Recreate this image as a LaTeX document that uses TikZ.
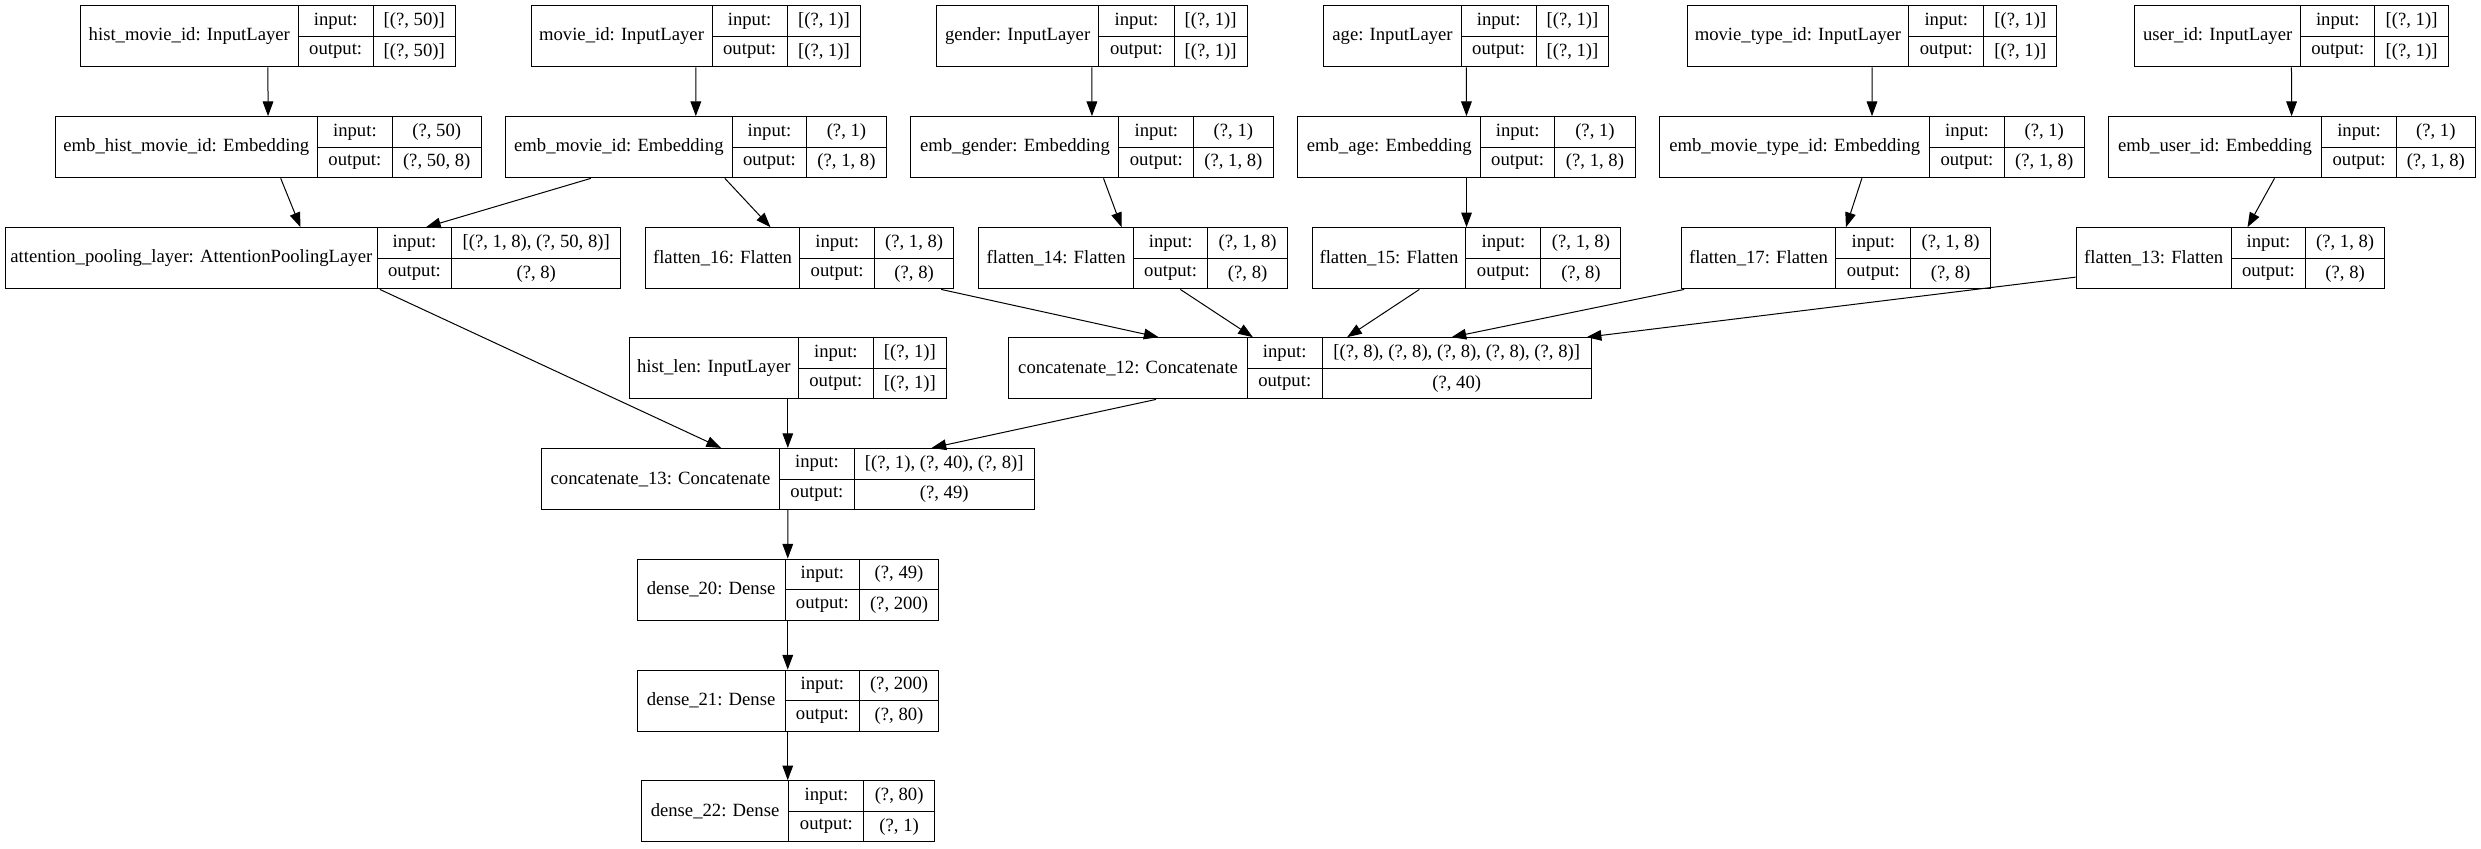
\documentclass[tikz,border=0pt]{standalone}
\usepackage{fontspec}
\setmainfont{Liberation Serif}
\usetikzlibrary{arrows.meta, fit, calc}

% one keras layer: name, left, divider 1, divider 2, right, top, label, input, output
\newcommand{\kerasbox}[9]{%
  \node[layerbox, fit={(#2,#6) (#5,{#6+38.7})}] (#1) {};
  \draw[cellrule] (#3,#6) -- (#3,{#6+38.7});
  \draw[cellrule] (#4,#6) -- (#4,{#6+38.7});
  \draw[cellrule] (#3,{#6+19.35}) -- (#5,{#6+19.35});
  \node[cell] (#1-lbl) at ({(#2+#3)/2},{#6+19.35}) {#7};
  \node[cell] (#1-inl) at ({(#3+#4)/2},{#6+9.7}) {input:};
  \node[cell] (#1-outl) at ({(#3+#4)/2},{#6+29.0}) {output:};
  \node[cell] (#1-inv) at ({(#4+#5)/2},{#6+9.7}) {#8};
  \node[cell] (#1-outv) at ({(#4+#5)/2},{#6+29.0}) {#9};
}

\begin{document}
\begin{tikzpicture}[x=1.1867pt, y=-1.1867pt,
    font=\fontsize{14pt}{16pt}\selectfont,
    layerbox/.style={draw, line width=0.75pt, inner sep=0pt},
    cellrule/.style={line width=0.75pt},
    cell/.style={inner sep=0pt},
    flow/.style={line width=0.75pt, -{Triangle[length=11pt,width=8pt]}}]
  \useasboundingbox (0,0) rectangle (1568,536);

  % inputs
  \kerasbox{histmovie}{50.9}{188.4}{235.9}{287.7}{3.6}{hist\_movie\_id: InputLayer}{[(?, 50)]}{[(?, 50)]}
  \kerasbox{movie}{335.6}{450.0}{497.5}{544.0}{3.6}{movie\_id: InputLayer}{[(?, 1)]}{[(?, 1)]}
  \kerasbox{gender}{591.8}{694.5}{742.0}{788.2}{3.6}{gender: InputLayer}{[(?, 1)]}{[(?, 1)]}
  \kerasbox{age}{836.7}{923.4}{970.9}{1016.7}{3.6}{age: InputLayer}{[(?, 1)]}{[(?, 1)]}
  \kerasbox{movietype}{1066.3}{1206.3}{1253.8}{1299.9}{3.6}{movie\_type\_id: InputLayer}{[(?, 1)]}{[(?, 1)]}
  \kerasbox{user}{1349.0}{1454.1}{1500.9}{1547.3}{3.6}{user\_id: InputLayer}{[(?, 1)]}{[(?, 1)]}

  % embeddings
  \kerasbox{embhist}{34.8}{200.7}{247.9}{304.1}{73.7}{emb\_hist\_movie\_id: Embedding}{(?, 50)}{(?, 50, 8)}
  \kerasbox{embmovie}{319.5}{462.7}{509.9}{560.0}{73.7}{emb\_movie\_id: Embedding}{(?, 1)}{(?, 1, 8)}
  \kerasbox{embgender}{575.7}{707.2}{754.4}{804.6}{73.7}{emb\_gender: Embedding}{(?, 1)}{(?, 1, 8)}
  \kerasbox{embage}{820.3}{935.7}{982.6}{1033.4}{73.7}{emb\_age: Embedding}{(?, 1)}{(?, 1, 8)}
  \kerasbox{embtype}{1049.0}{1219.5}{1266.7}{1317.2}{73.7}{emb\_movie\_type\_id: Embedding}{(?, 1)}{(?, 1, 8)}
  \kerasbox{embuser}{1332.4}{1467.3}{1514.5}{1564.3}{73.7}{emb\_user\_id: Embedding}{(?, 1)}{(?, 1, 8)}

  % pooling and flatten
  \kerasbox{attn}{3.3}{238.5}{285.4}{392.4}{143.9}{attention\_pooling\_layer: AttentionPoolingLayer}{[(?, 1, 8), (?, 50, 8)]}{(?, 8)}
  \kerasbox{flatA}{407.8}{505.5}{552.7}{602.8}{143.9}{flatten\_16: Flatten}{(?, 1, 8)}{(?, 8)}
  \kerasbox{flatB}{618.6}{716.3}{763.4}{813.6}{143.9}{flatten\_14: Flatten}{(?, 1, 8)}{(?, 8)}
  \kerasbox{flatC}{829.3}{926.4}{973.9}{1024.4}{143.9}{flatten\_15: Flatten}{(?, 1, 8)}{(?, 8)}
  \kerasbox{flatD}{1062.6}{1160.2}{1207.7}{1257.9}{143.9}{flatten\_17: Flatten}{(?, 1, 8)}{(?, 8)}
  \kerasbox{flatE}{1312.1}{1410.1}{1457.2}{1507.0}{143.9}{flatten\_13: Flatten}{(?, 1, 8)}{(?, 8)}

  % merging
  \kerasbox{histlen}{397.7}{504.5}{552.0}{598.1}{213.4}{hist\_len: InputLayer}{[(?, 1)]}{[(?, 1)]}
  \kerasbox{concatA}{637.5}{788.4}{835.5}{1005.8}{213.4}{concatenate\_12: Concatenate}{[(?, 8), (?, 8), (?, 8), (?, 8), (?, 8)]}{(?, 40)}
  \kerasbox{concatB}{342.3}{492.6}{540.0}{653.5}{283.4}{concatenate\_13: Concatenate}{[(?, 1), (?, 40), (?, 8)]}{(?, 49)}

  % dense stack
  \kerasbox{denseA}{402.6}{496.2}{543.3}{593.1}{353.3}{dense\_20: Dense}{(?, 49)}{(?, 200)}
  \kerasbox{denseB}{402.6}{496.2}{543.3}{593.1}{423.5}{dense\_21: Dense}{(?, 200)}{(?, 80)}
  \kerasbox{denseC}{405.2}{498.6}{546.0}{590.5}{493.4}{dense\_22: Dense}{(?, 80)}{(?, 1)}

  \draw[flow] (histmovie) -- (embhist);
  \draw[flow] (movie) -- (embmovie);
  \draw[flow] (gender) -- (embgender);
  \draw[flow] (age) -- (embage);
  \draw[flow] (movietype) -- (embtype);
  \draw[flow] (user) -- (embuser);

  \draw[flow] (embhist) -- (attn);
  \draw[flow] (embmovie) -- ($(attn.north)+(71.4,0)$);
  \draw[flow] (embmovie) -- (flatA);
  \draw[flow] (embgender) -- (flatB);
  \draw[flow] (embage) -- (flatC);
  \draw[flow] (embtype) -- (flatD);
  \draw[flow] (embuser) -- (flatE);

  \draw[flow] (flatA) -- (concatA);
  \draw[flow] (flatB) -- (concatA);
  \draw[flow] (flatC) -- (concatA);
  \draw[flow] (flatD) -- (concatA);
  \draw[flow] (flatE) -- ($(concatA.north east)+(-3.3,0)$);

  \draw[flow] (attn) -- (concatB);
  \draw[flow] (histlen) -- (concatB);
  \draw[flow] (concatA) -- (concatB);
  \draw[flow] (concatB) -- (denseA);
  \draw[flow] (denseA) -- (denseB);
  \draw[flow] (denseB) -- (denseC);
\end{tikzpicture}
\end{document}
